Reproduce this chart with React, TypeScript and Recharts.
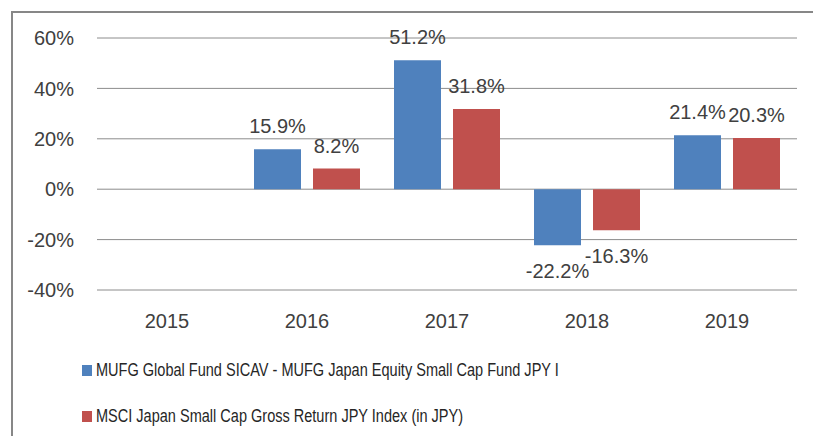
import React from 'react';
import { BarChart, Bar, XAxis, YAxis, CartesianGrid, LabelList, Legend } from 'recharts';

const years = ['2015', '2016', '2017', '2018', '2019'];
const fundValues: (number | null)[] = [null, 15.9, 51.2, -22.2, 21.4];
const indexValues: (number | null)[] = [null, 8.2, 31.8, -16.3, 20.3];
const yTicks = [-40, -20, 0, 20, 40, 60];
const seriesNames = [
  'MUFG Global Fund SICAV - MUFG Japan Equity Small Cap Fund JPY I',
  'MSCI Japan Small Cap Gross Return JPY Index (in JPY)',
];
const seriesColors = ['#4F81BD', '#C0504D'];

const data = years.map((y, i) => ({ year: y, fund: fundValues[i], index: indexValues[i] }));

const FONT = "'Liberation Sans', Arial, sans-serif";
const TEXT = '#404040';

const ValueLabel = (props: any) => {
  const vb = props.viewBox || {};
  const x = props.x ?? vb.x;
  const y = props.y ?? vb.y;
  const width = props.width ?? vb.width;
  const height = props.height ?? vb.height;
  const value = props.value;
  if (value === null || value === undefined || x === undefined) return null;
  const top = Math.min(y, y + height);
  const bottom = Math.max(y, y + height);
  const cx = x + width / 2;
  const ty = value >= 0 ? top - 16 : bottom + 33;
  return (
    <text x={cx} y={ty} textAnchor="middle" fontSize={20} fontFamily={FONT} fill={TEXT}>
      {Number(value).toFixed(1)}%
    </text>
  );
};

const LegendContent = () => {
  return (
    <div style={{ height: 92, fontFamily: FONT, fontSize: 17.5, color: '#262626' }}>
      {seriesNames.map((name, i) => (
        <div
          key={i}
          style={{ height: 46, display: 'flex', alignItems: 'center', paddingLeft: 82, whiteSpace: 'nowrap' }}
        >
          <span style={{ display: 'inline-block', width: 10, height: 11, background: seriesColors[i], marginRight: 4, flex: 'none' }} />
          <span style={{ display: 'inline-block', transform: 'scaleX(0.83)', transformOrigin: 'left center' }}>{name}</span>
        </div>
      ))}
    </div>
  );
};

export default function App() {
  return (
    <div style={{ position: 'absolute', left: 0, top: 0, width: 813, height: 436, overflow: 'hidden', background: '#fff' }}>
      <div
        style={{
          position: 'absolute',
          left: 11,
          top: 11,
          width: 900,
          height: 500,
          borderLeft: '2px solid #878787',
          borderTop: '2px solid #878787',
        }}
      />
      <div style={{ position: 'absolute', left: 0, top: 0 }}>
        <BarChart
          width={813}
          height={436}
          data={data}
          margin={{ top: 38, right: 16, left: 0, bottom: 14 }}
          barSize={47}
          barGap={12}
        >
          <CartesianGrid vertical={false} stroke="#8c8c8c" strokeWidth={1} />
          <XAxis
            dataKey="year"
            axisLine={false}
            tickLine={false}
            tickSize={0}
            tickMargin={24}
            height={40}
            tick={{ fontSize: 20, fill: TEXT, fontFamily: FONT }}
          />
          <YAxis
            domain={[-40, 60]}
            ticks={yTicks}
            axisLine={false}
            tickLine={false}
            tickSize={0}
            tickMargin={23}
            width={97}
            tickFormatter={(v: number) => `${v}%`}
            tick={{ fontSize: 20, fill: TEXT, fontFamily: FONT }}
          />
          <Legend
            verticalAlign="bottom"
            content={<LegendContent />}
            wrapperStyle={{ top: 347, left: 0, width: 813, height: 92 }}
          />
          <Bar dataKey="fund" name={seriesNames[0]} fill={seriesColors[0]} isAnimationActive={false}>
            <LabelList dataKey="fund" content={<ValueLabel />} />
          </Bar>
          <Bar dataKey="index" name={seriesNames[1]} fill={seriesColors[1]} isAnimationActive={false}>
            <LabelList dataKey="index" content={<ValueLabel />} />
          </Bar>
        </BarChart>
      </div>
    </div>
  );
}
